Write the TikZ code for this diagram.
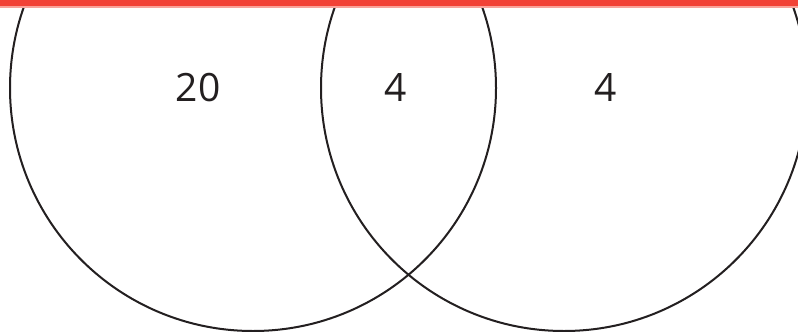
\documentclass[tikz,border=0pt]{standalone}
\usepackage{fontspec}
\setmainfont{Open Sans}
\definecolor{barred}{HTML}{F24236}
\definecolor{barlight}{HTML}{F9A39A}
\definecolor{ink}{HTML}{231F20}
\begin{document}
\begin{tikzpicture}[x=1pt,y=-1pt,
  setcircle/.style={draw=ink,line width=2pt},
  count/.style={text=ink,font=\fontsize{39}{39}\selectfont,inner sep=0pt}]
\useasboundingbox (0,0) rectangle (798,332);
\clip (0,0) rectangle (798,332);
\fill[white] (0,0) rectangle (798,332);
\draw[setcircle] (253,88) circle[radius=243];
\draw[setcircle] (564,88) circle[radius=243];
\node[count] (a) at (198,88) {20};
\node[count] (b) at (396,88) {4};
\node[count] (c) at (606,88) {4};
\fill[barlight] (0,0) rectangle (798,7.5);
\fill[barred] (0,0) rectangle (798,5.5);
\end{tikzpicture}
\end{document}
